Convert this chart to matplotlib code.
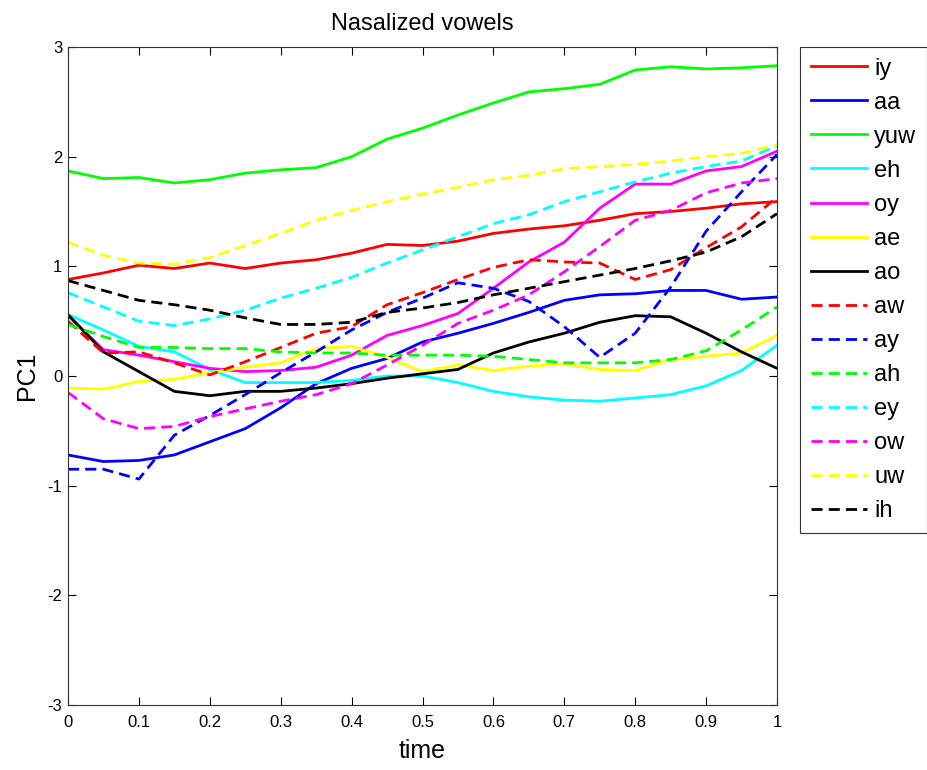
import numpy as np
import matplotlib
matplotlib.use("Agg")
import matplotlib.pyplot as plt

plt.rcParams["font.family"] = ["Liberation Sans", "DejaVu Sans"]
plt.rcParams["axes.unicode_minus"] = False

# eje temporal normalizado (21 muestras)
t = np.linspace(0, 1, 21)

# primer componente principal por vocal
iy  = [0.88, 0.94, 1.01, 0.98, 1.03, 0.98, 1.03, 1.06, 1.12, 1.20, 1.19, 1.23, 1.30, 1.34, 1.37, 1.42, 1.48, 1.50, 1.53, 1.57, 1.59]
aa  = [-0.72, -0.78, -0.77, -0.72, -0.60, -0.48, -0.29, -0.07, 0.07, 0.16, 0.31, 0.39, 0.48, 0.58, 0.69, 0.74, 0.75, 0.78, 0.78, 0.70, 0.72]
yuw = [1.87, 1.80, 1.81, 1.76, 1.79, 1.85, 1.88, 1.90, 2.00, 2.16, 2.26, 2.38, 2.49, 2.59, 2.62, 2.66, 2.79, 2.82, 2.80, 2.81, 2.83]
eh  = [0.56, 0.42, 0.27, 0.22, 0.06, -0.06, -0.06, -0.06, -0.04, 0.00, 0.00, -0.06, -0.14, -0.19, -0.22, -0.23, -0.20, -0.17, -0.09, 0.05, 0.28]
oy  = [0.55, 0.24, 0.19, 0.13, 0.07, 0.04, 0.05, 0.08, 0.19, 0.37, 0.46, 0.57, 0.80, 1.04, 1.22, 1.53, 1.75, 1.75, 1.87, 1.91, 2.05]
ae  = [-0.11, -0.12, -0.05, -0.03, 0.03, 0.08, 0.12, 0.25, 0.27, 0.17, 0.04, 0.10, 0.05, 0.09, 0.11, 0.06, 0.05, 0.15, 0.18, 0.21, 0.37]
ao  = [0.56, 0.22, 0.04, -0.14, -0.18, -0.14, -0.14, -0.11, -0.07, -0.02, 0.02, 0.06, 0.21, 0.31, 0.39, 0.49, 0.55, 0.54, 0.39, 0.22, 0.07]
aw  = [0.50, 0.21, 0.22, 0.12, 0.01, 0.13, 0.26, 0.39, 0.45, 0.65, 0.76, 0.88, 0.99, 1.06, 1.04, 1.03, 0.88, 0.97, 1.17, 1.36, 1.63]
ay  = [-0.85, -0.85, -0.94, -0.54, -0.36, -0.17, 0.03, 0.22, 0.42, 0.58, 0.71, 0.85, 0.80, 0.68, 0.45, 0.17, 0.39, 0.81, 1.32, 1.68, 2.02]
ah  = [0.47, 0.36, 0.26, 0.26, 0.25, 0.25, 0.22, 0.21, 0.21, 0.19, 0.19, 0.19, 0.18, 0.15, 0.12, 0.12, 0.12, 0.15, 0.23, 0.42, 0.63]
ey  = [0.76, 0.63, 0.50, 0.46, 0.52, 0.60, 0.71, 0.80, 0.90, 1.03, 1.15, 1.27, 1.39, 1.47, 1.59, 1.68, 1.77, 1.85, 1.91, 1.96, 2.10]
ow  = [-0.15, -0.39, -0.48, -0.46, -0.37, -0.30, -0.23, -0.17, -0.07, 0.10, 0.28, 0.48, 0.60, 0.74, 0.95, 1.18, 1.42, 1.51, 1.67, 1.76, 1.80]
uw  = [1.22, 1.10, 1.03, 1.02, 1.08, 1.19, 1.30, 1.42, 1.51, 1.59, 1.66, 1.72, 1.79, 1.83, 1.89, 1.91, 1.93, 1.96, 2.00, 2.03, 2.11]
ih  = [0.87, 0.78, 0.69, 0.65, 0.60, 0.53, 0.47, 0.47, 0.49, 0.58, 0.62, 0.67, 0.74, 0.80, 0.86, 0.92, 0.98, 1.05, 1.13, 1.27, 1.48]

vocales = ["iy", "aa", "yuw", "eh", "oy", "ae", "ao", "aw", "ay", "ah", "ey", "ow", "uw", "ih"]
series = [iy, aa, yuw, eh, oy, ae, ao, aw, ay, ah, ey, ow, uw, ih]
colores = ["#ff0000", "#0000ff", "#00ff00", "#00ffff", "#ff00ff", "#ffff00", "#000000"]

fig = plt.figure(figsize=(9.27, 7.70), dpi=100)
ax = fig.add_axes([68/927, 1 - 705/770, (777-68)/927, (705-47)/770])

# las 7 primeras continuas, el resto discontinuas
for i, (nombre, y) in enumerate(zip(vocales, series)):
    c = colores[i % 7]
    if i < 7:
        ax.plot(t, y, color=c, lw=2, label=nombre)
    else:
        ax.plot(t, y, color=c, lw=2, dashes=(4, 2.2), label=nombre)

ax.set_xlim(0, 1)
ax.set_ylim(-3, 3)
ax.set_xticks(np.arange(0, 1.01, 0.1))
ax.set_xticklabels(["0", "0.1", "0.2", "0.3", "0.4", "0.5", "0.6", "0.7", "0.8", "0.9", "1"])
ax.set_yticks(np.arange(-3, 4, 1))
ax.tick_params(direction="in", top=True, right=True, labelsize=12, length=6)
ax.tick_params(axis="x", pad=7)
ax.tick_params(axis="y", pad=4)
for s in ax.spines.values():
    s.set_linewidth(0.8)
    s.set_color("#333333")

ax.set_title("Nasalized vowels", fontsize=17, pad=12)
ax.set_xlabel("time", fontsize=18, labelpad=7)
ax.set_ylabel("PC1", fontsize=18, labelpad=6)

leg = ax.legend(loc="upper left", bbox_to_anchor=(800/927, 1 - 47/770),
                bbox_transform=fig.transFigure, borderaxespad=0,
                fontsize=17, handlelength=2.4, handletextpad=0.3,
                labelspacing=0.51, fancybox=False, framealpha=1,
                borderpad=0.45)
leg.get_frame().set_edgecolor("#333333")
leg.get_frame().set_linewidth(0.8)

fig.savefig("out.png", dpi=100)
